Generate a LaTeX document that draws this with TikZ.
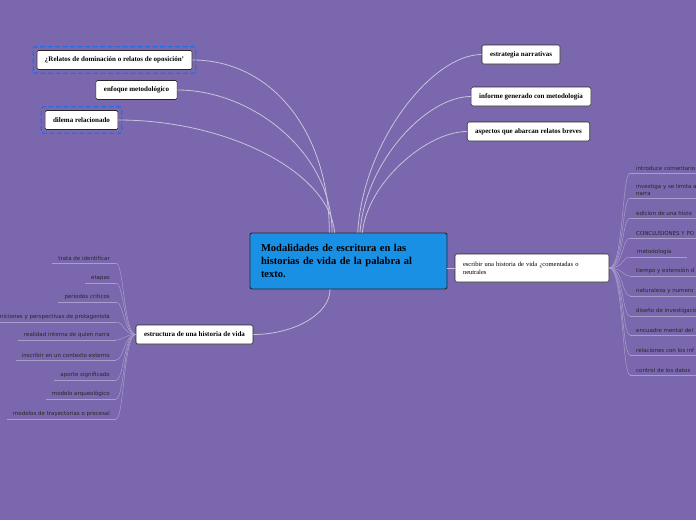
\documentclass[tikz,border=0pt]{standalone}
\usepackage{fontspec}
\setmainfont{Liberation Serif}
\newfontfamily\leaffont{DejaVu Sans}
\usetikzlibrary{arrows.meta,positioning,calc,shadows}
\definecolor{bgpurple}{HTML}{7B67AD}
\definecolor{mainblue}{HTML}{1A90E5}
\definecolor{selblue}{HTML}{1F6FE8}
\definecolor{linegray}{HTML}{C9C3DC}
\definecolor{leafline}{HTML}{A99DCC}

\begin{document}
\begin{tikzpicture}[x=1pt,y=-1pt,
 main/.style={draw=black!85,fill=mainblue,rounded corners=2pt,line width=0.9pt,align=left,font=\bfseries\fontsize{10.5}{13}\selectfont,text width=175pt,inner xsep=11pt,minimum height=56pt},
 topic/.style={draw=black!85,fill=white,rounded corners=1.5pt,line width=0.6pt,font=\bfseries\fontsize{7}{8}\selectfont,inner xsep=8pt,minimum height=19pt,drop shadow={shadow xshift=0.6pt,shadow yshift=-0.8pt,opacity=0.35}},
 sel/.style={draw=selblue,line width=1.2pt,dash pattern=on 5pt off 2.5pt,rounded corners=2.5pt},
 conn/.style={draw=linegray,line width=0.8pt},
 leaf/.style={font=\leaffont\fontsize{5.5}{7}\selectfont,text=black!85,inner xsep=6pt,inner ysep=2.5pt},
 lline/.style={draw=leafline,line width=0.5pt}
]
\useasboundingbox (0,0) rectangle (696,520);
\clip (0,0) rectangle (696,520);
\fill[bgpurple] (0,0) rectangle (696,520);

% central topic
\node[main] (center) at (348.5,261) {Modalidades de escritura en las\\historias de vida de la palabra al\\texto.};

% main branches
\node[topic] (relatos) at (114.5,60) {¿Relatos de dominación o relatos de oposición'};
\node[topic] (enfoque) at (136.5,90) {enfoque metodológico};
\node[topic] (dilema) at (81.5,120) {dilema relacionado};
\draw[sel] ($(relatos.south west)+(-3.5pt,-3.5pt)$) rectangle ($(relatos.north east)+(3.5pt,3.5pt)$);
\draw[sel] ($(dilema.south west)+(-3.5pt,-3.5pt)$) rectangle ($(dilema.north east)+(3.5pt,3.5pt)$);
\node[topic] (estrategia) at (521,54.5) {estrategia narrativas};
\node[topic] (informe) at (531,96.5) {informe generado con metodología};
\node[topic] (aspectos) at (528.5,131.5) {aspectos que abarcan relatos breves};
\node[topic] (estructura) at (194.5,334.5) {estructura de una historia de vida};
\node[topic,font=\fontsize{6.5}{8}\selectfont,align=left,text width=138pt,minimum height=28pt] (escribir) at (532,268) {escribir una historia de vida ¿comentadas o\\neutrales};

\draw[conn] (center.124) .. controls +(0,-100) and +(80,0) .. (relatos.east);
\draw[conn] (center.120) .. controls +(0,-80) and +(75,0) .. (enfoque.east);
\draw[conn] (center.116) .. controls +(-5,-60) and +(110,0) .. (dilema.east);
\draw[conn] (center.72) .. controls +(5,-90) and +(-50,0) .. (estrategia.west);
\draw[conn] (center.68) .. controls +(5,-70) and +(-45,0) .. (informe.west);
\draw[conn] (center.64) .. controls +(5,-50) and +(-40,0) .. (aspectos.west);
\draw[conn] (center.237) .. controls +(0,25) and +(40,0) .. (estructura.east);
\draw[conn] (center.east |- escribir.west) -- (escribir.west);

% leaves of escribir
\node[leaf,anchor=south west] (r1) at (630,173) {introduce comentario};
\node[leaf,anchor=south west,align=left] (r2) at (630,198) {investiga y se limita a\\narra};
\node[leaf,anchor=south west] (r3) at (630,218) {edicion de una histo};
\node[leaf,anchor=south west] (r4) at (630,238) {CONCLUSIONES Y PO};
\node[leaf,anchor=south west,inner xsep=7pt] (r5) at (630,257) {metodologia};
\node[leaf,anchor=south west] (r6) at (630,276) {tiempo y extensión d};
\node[leaf,anchor=south west] (r7) at (630,296) {naturaleza y numero};
\node[leaf,anchor=south west] (r8) at (630,316) {diseño de investigació};
\node[leaf,anchor=south west] (r9) at (630,335) {encuadre mental del};
\node[leaf,anchor=south west] (r10) at (630,355) {relaciones con los inf};
\node[leaf,anchor=south west] (r11) at (630,375) {control de los datos};
\draw[lline] (r1.south west) -- (r1.south east);
\draw[lline] (r2.south west) -- (r2.south east);
\draw[lline] (r3.south west) -- (r3.south east);
\draw[lline] (r4.south west) -- (r4.south east);
\draw[lline] (r5.south west) -- ($(r5.south east)+(8,0)$);
\draw[lline] (r6.south west) -- (r6.south east);
\draw[lline] (r7.south west) -- (r7.south east);
\draw[lline] (r8.south west) -- (r8.south east);
\draw[lline] (r9.south west) -- (r9.south east);
\draw[lline] (r10.south west) -- (r10.south east);
\draw[lline] (r11.south west) -- (r11.south east);
\draw[lline] (escribir.east) .. controls +(14,0) and +(-8,0) .. (r1.south west);
\draw[lline] (escribir.east) .. controls +(14,0) and +(-8,0) .. (r2.south west);
\draw[lline] (escribir.east) .. controls +(14,0) and +(-8,0) .. (r3.south west);
\draw[lline] (escribir.east) .. controls +(14,0) and +(-8,0) .. (r4.south west);
\draw[lline] (escribir.east) .. controls +(14,0) and +(-8,0) .. (r5.south west);
\draw[lline] (escribir.east) .. controls +(14,0) and +(-8,0) .. (r6.south west);
\draw[lline] (escribir.east) .. controls +(14,0) and +(-8,0) .. (r7.south west);
\draw[lline] (escribir.east) .. controls +(14,0) and +(-8,0) .. (r8.south west);
\draw[lline] (escribir.east) .. controls +(14,0) and +(-8,0) .. (r9.south west);
\draw[lline] (escribir.east) .. controls +(14,0) and +(-8,0) .. (r10.south west);
\draw[lline] (escribir.east) .. controls +(14,0) and +(-8,0) .. (r11.south west);

% leaves of estructura
\node[leaf,anchor=south east] (l1) at (116,263) {trata de identificar};
\node[leaf,anchor=south east] (l2) at (116,283) {etapas};
\node[leaf,anchor=south east] (l3) at (116,302) {periodos criticos};
\node[leaf,anchor=south east] (l4) at (116,322) {definiciones y perspectivas de protagonista};
\node[leaf,anchor=south east] (l5) at (116,340) {realidad interna de quien narra};
\node[leaf,anchor=south east] (l6) at (116,360) {inscribir en un contexto externo};
\node[leaf,anchor=south east] (l7) at (116,380) {aporte significado};
\node[leaf,anchor=south east] (l8) at (116,399) {modelo arqueológico};
\node[leaf,anchor=south east] (l9) at (116,419) {modelos de trayectorias o procesal};
\draw[lline] (l1.south west) -- (l1.south east);
\draw[lline] (l2.south west) -- (l2.south east);
\draw[lline] (l3.south west) -- (l3.south east);
\draw[lline] (l4.south west) -- (l4.south east);
\draw[lline] (l5.south west) -- (l5.south east);
\draw[lline] (l6.south west) -- (l6.south east);
\draw[lline] (l7.south west) -- (l7.south east);
\draw[lline] (l8.south west) -- (l8.south east);
\draw[lline] (l9.south west) -- (l9.south east);
\draw[lline] (estructura.west) .. controls +(-12,0) and +(8,0) .. (l1.south east);
\draw[lline] (estructura.west) .. controls +(-12,0) and +(8,0) .. (l2.south east);
\draw[lline] (estructura.west) .. controls +(-12,0) and +(8,0) .. (l3.south east);
\draw[lline] (estructura.west) .. controls +(-12,0) and +(8,0) .. (l4.south east);
\draw[lline] (estructura.west) .. controls +(-12,0) and +(8,0) .. (l5.south east);
\draw[lline] (estructura.west) .. controls +(-12,0) and +(8,0) .. (l6.south east);
\draw[lline] (estructura.west) .. controls +(-12,0) and +(8,0) .. (l7.south east);
\draw[lline] (estructura.west) .. controls +(-12,0) and +(8,0) .. (l8.south east);
\draw[lline] (estructura.west) .. controls +(-12,0) and +(8,0) .. (l9.south east);
\end{tikzpicture}
\end{document}
